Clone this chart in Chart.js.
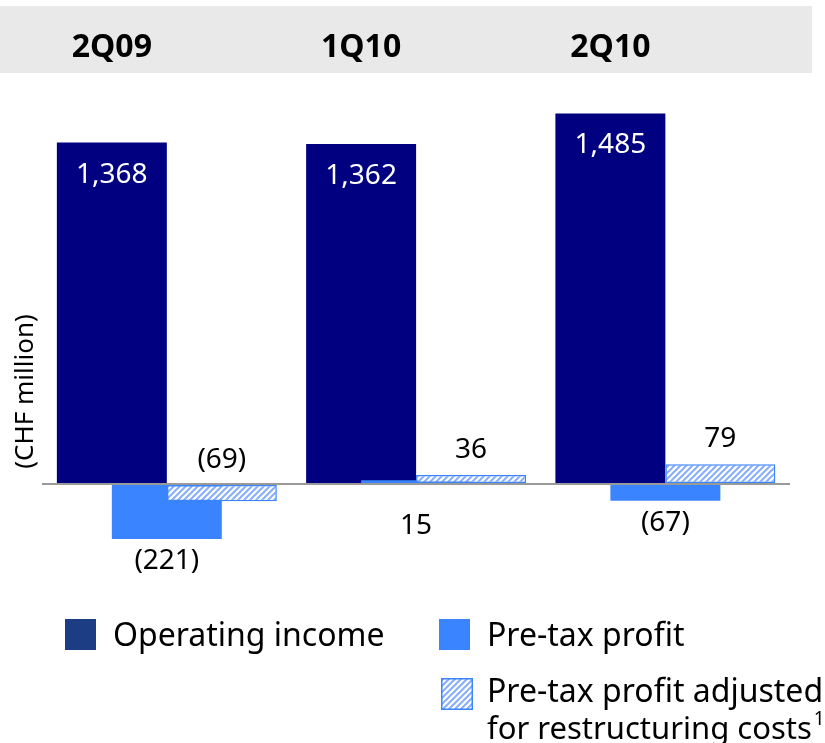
<!DOCTYPE html>
<html>
<head>
<meta charset="utf-8">
<script src="https://cdn.jsdelivr.net/npm/chart.js@4.4.0/dist/chart.umd.min.js"></script>
<style>
  html, body { margin: 0; padding: 0; background: #ffffff; }
  #wrap { width: 825px; height: 743px; }
</style>
</head>
<body>
<div id="wrap"><canvas id="c" width="825" height="743"></canvas></div>
<script>
// ---- data ----
const categories = ['2Q09', '1Q10', '2Q10'];
const operatingIncome = [1368, 1362, 1485];
const preTaxProfit = [-221, 15, -67];
const adjustedPreTax = [-69, 36, 79];
const seriesNames = ['Operating income', 'Pre-tax profit', 'Pre-tax profit adjusted', 'for restructuring costs'];
const footnoteMark = '1';
const axisTitle = '(CHF million)';

// ---- styles ----
const FONT = '"Noto Sans", "Open Sans", sans-serif';
const NAVY = '#000080';
const BLUE = '#3b84ff';
const LEGEND_NAVY = '#1c3c84';
const HATCH = '#86aefc';

function makeHatch() {
  const s = 6;
  const cv = document.createElement('canvas');
  cv.width = s; cv.height = s;
  const g = cv.getContext('2d');
  g.fillStyle = '#ffffff';
  g.fillRect(0, 0, s, s);
  g.strokeStyle = HATCH;
  g.lineWidth = 2;
  g.beginPath();
  g.moveTo(0, s); g.lineTo(s, 0);
  g.moveTo(-1, 1); g.lineTo(1, -1);
  g.moveTo(s - 1, s + 1); g.lineTo(s + 1, s - 1);
  g.stroke();
  return g.createPattern(cv, 'repeat');
}
const hatch = makeHatch();

function fmt(v) {
  const s = Math.abs(v).toLocaleString('en-US');
  return v < 0 ? '(' + s + ')' : s;
}

const drawOrderPlugin = {
  id: 'drawOrder',
  beforeDatasetsDraw(chart) {
    const ctx = chart.ctx;
    [0, 1, 2].forEach(i => {
      const meta = chart.getDatasetMeta(i);
      ctx.save();
      meta.controller.draw();
      ctx.restore();
    });
    return false;
  }
};

const decorPlugin = {
  id: 'decor',
  beforeDraw(chart) {
    const ctx = chart.ctx;
    ctx.save();
    ctx.fillStyle = '#e9e9e9';
    ctx.fillRect(0, 6, 812, 67);
    ctx.restore();
  },
  afterDraw(chart) {
    const ctx = chart.ctx;
    const y = chart.scales.y;
    const zero = y.getPixelForValue(0);
    ctx.save();
    // header category labels, centred on the operating income bars
    const m0 = chart.getDatasetMeta(0);
    ctx.font = 'bold 32px ' + FONT;
    ctx.fillStyle = '#000000';
    ctx.textAlign = 'center';
    ctx.textBaseline = 'alphabetic';
    categories.forEach((c, i) => {
      ctx.fillText(c, m0.data[i].x, 57);
    });

    // value labels
    ctx.font = '28px ' + FONT;
    m0.data.forEach((bar, i) => {
      ctx.fillStyle = '#ffffff';
      ctx.fillText(fmt(operatingIncome[i]), bar.x, bar.y + 40);
    });
    const m1 = chart.getDatasetMeta(1);
    m1.data.forEach((bar, i) => {
      const v = preTaxProfit[i];
      const bottom = Math.max(bar.y, bar.base);
      ctx.fillStyle = '#000000';
      ctx.fillText(fmt(v), bar.x, v < 0 ? bottom + 30 : zero + 50);
    });
    const m2 = chart.getDatasetMeta(2);
    m2.data.forEach((bar, i) => {
      const top = Math.min(bar.y, bar.base);
      ctx.fillStyle = '#000000';
      ctx.fillText(fmt(adjustedPreTax[i]), bar.x, top - 17);
    });

    // legend
    ctx.textAlign = 'left';
    ctx.fillStyle = LEGEND_NAVY;
    ctx.fillRect(65, 619, 31, 31);
    ctx.fillStyle = BLUE;
    ctx.fillRect(439, 619, 31, 31);
    ctx.fillStyle = hatch;
    ctx.fillRect(441, 678, 32, 32);
    ctx.strokeStyle = BLUE;
    ctx.lineWidth = 1.5;
    ctx.strokeRect(441.75, 678.75, 30.5, 30.5);
    ctx.fillStyle = '#000000';
    ctx.font = '32px ' + FONT;
    ctx.fillText(seriesNames[0], 113, 646);
    ctx.fillText(seriesNames[1], 487, 646);
    ctx.fillText(seriesNames[2], 487, 702);
    ctx.font = '31px ' + FONT;
    ctx.fillText(seriesNames[3], 487, 739);
    const w = ctx.measureText(seriesNames[3]).width;
    ctx.font = '19px ' + FONT;
    ctx.fillText(footnoteMark, 487 + w + 2, 725);
    ctx.restore();
  }
};

new Chart(document.getElementById('c'), {
  type: 'bar',
  data: {
    labels: categories,
    datasets: [
      {
        label: seriesNames[0],
        data: operatingIncome,
        backgroundColor: NAVY,
        borderWidth: 0
      },
      {
        label: seriesNames[1],
        data: preTaxProfit,
        backgroundColor: BLUE,
        borderWidth: 0
      },
      {
        label: seriesNames[2] + ' ' + seriesNames[3] + footnoteMark,
        data: adjustedPreTax,
        backgroundColor: hatch,
        borderColor: BLUE,
        borderWidth: 1.5,
        borderSkipped: false
      }
    ]
  },
  options: {
    responsive: false,
    animation: false,
    devicePixelRatio: 1,
    categoryPercentage: 165 / 249.33,
    barPercentage: 2,
    layout: { padding: { top: 80, bottom: 40, left: 3, right: 35 } },
    plugins: {
      legend: { display: false },
      tooltip: { enabled: false }
    },
    scales: {
      x: {
        display: false
      },
      y: {
        min: -878,
        max: 1619,
        afterBuildTicks(scale) { scale.ticks = [{ value: 0 }]; },
        ticks: { display: false },
        border: { display: false },
        grid: {
          drawTicks: false,
          color: (c) => (c.tick && c.tick.value === 0 ? '#9a9a9a' : 'rgba(0,0,0,0)'),
          lineWidth: 2
        },
        title: {
          display: true,
          text: axisTitle,
          color: '#000000',
          font: { family: FONT, size: 26 },
          padding: { top: 7, bottom: 1 }
        }
      }
    }
  },
  plugins: [drawOrderPlugin, decorPlugin]
});
</script>
</body>
</html>
